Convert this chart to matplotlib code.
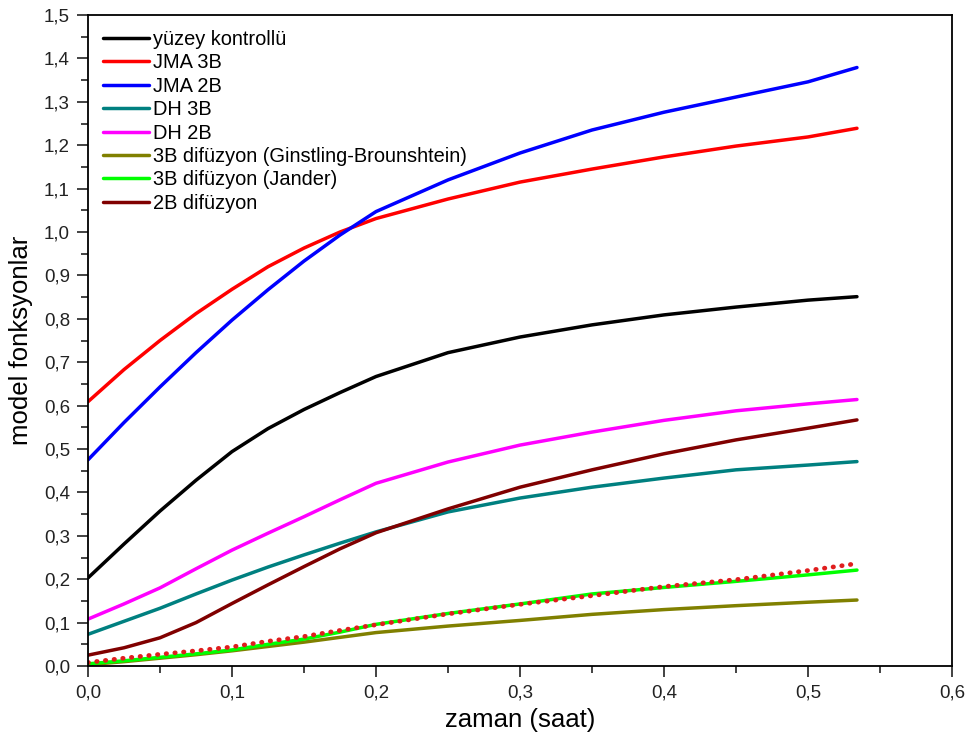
import matplotlib
matplotlib.use("Agg")
import matplotlib.pyplot as plt
from matplotlib.ticker import MultipleLocator, FuncFormatter

plt.rcParams['font.family'] = ['Liberation Sans', 'DejaVu Sans']

# time axis (hours)
t = [0.0, 0.025, 0.05, 0.075, 0.1, 0.125, 0.15, 0.175, 0.2,
     0.25, 0.3, 0.35, 0.4, 0.45, 0.5, 0.534]

yuzey_kontrollu = [0.203, 0.281, 0.357, 0.428, 0.494, 0.547, 0.591, 0.630, 0.667,
                   0.722, 0.758, 0.786, 0.809, 0.827, 0.843, 0.851]
jma_3b = [0.609, 0.683, 0.750, 0.812, 0.868, 0.920, 0.963, 1.000, 1.031,
          1.076, 1.115, 1.145, 1.173, 1.198, 1.219, 1.239]
jma_2b = [0.475, 0.561, 0.643, 0.722, 0.797, 0.867, 0.933, 0.993, 1.047,
          1.120, 1.182, 1.235, 1.276, 1.311, 1.346, 1.379]
dh_3b = [0.073, 0.103, 0.133, 0.166, 0.198, 0.228, 0.256, 0.283, 0.309,
         0.355, 0.387, 0.412, 0.433, 0.452, 0.463, 0.471]
dh_2b = [0.108, 0.143, 0.180, 0.224, 0.267, 0.306, 0.344, 0.383, 0.421,
         0.470, 0.509, 0.539, 0.566, 0.588, 0.604, 0.614]
gb_3b = [0.003, 0.010, 0.018, 0.026, 0.035, 0.045, 0.055, 0.066, 0.077,
         0.092, 0.105, 0.119, 0.130, 0.139, 0.147, 0.152]
jander_3b = [0.005, 0.012, 0.020, 0.028, 0.037, 0.050, 0.062, 0.078, 0.096,
             0.121, 0.143, 0.166, 0.181, 0.195, 0.210, 0.221]
dif_2b = [0.025, 0.042, 0.065, 0.100, 0.144, 0.187, 0.229, 0.270, 0.307,
          0.362, 0.412, 0.452, 0.489, 0.521, 0.548, 0.567]
dif_2b_kare = [0.008, 0.018, 0.027, 0.035, 0.044, 0.057, 0.068, 0.082, 0.095,
               0.120, 0.142, 0.162, 0.183, 0.199, 0.220, 0.236]

series = [
    ("yüzey kontrollü", yuzey_kontrollu, "#000000"),
    ("JMA 3B", jma_3b, "#ff0000"),
    ("JMA 2B", jma_2b, "#0000ff"),
    ("DH 3B", dh_3b, "#008080"),
    ("DH 2B", dh_2b, "#ff00ff"),
    ("3B difüzyon (Ginstling-Brounshtein)", gb_3b, "#808000"),
    ("3B difüzyon (Jander)", jander_3b, "#00ff00"),
    ("2B difüzyon", dif_2b, "#800000"),
]

fig = plt.figure(figsize=(9.71, 7.43), dpi=100)
ax = fig.add_axes([88 / 971, 1 - 666 / 743, (952 - 88) / 971, (666 - 15) / 743])

for label, vals, color in series:
    ax.plot(t, vals, color=color, lw=2.5, label=label, solid_capstyle='round')

ax.plot(t, dif_2b_kare, color="#e01e1e", lw=3.4, linestyle=(0, (0.1, 1.75)),
        dash_capstyle='round')

ax.set_xlim(0, 0.6)
ax.set_ylim(0, 1.5)
ax.xaxis.set_major_locator(MultipleLocator(0.1))
ax.xaxis.set_minor_locator(MultipleLocator(0.05))
ax.yaxis.set_major_locator(MultipleLocator(0.1))
ax.yaxis.set_minor_locator(MultipleLocator(0.05))
comma = FuncFormatter(lambda v, p: f"{v:.1f}".replace(".", ","))
ax.xaxis.set_major_formatter(comma)
ax.yaxis.set_major_formatter(comma)

ax.tick_params(which='both', direction='out', top=False, right=False,
               width=1.2, labelsize=13.5, colors='#222222')
ax.tick_params(which='major', length=8, pad=5)
ax.tick_params(which='minor', length=5)
for sp in ax.spines.values():
    sp.set_linewidth(1.3)

ax.set_xlabel("zaman (saat)", fontsize=18.5, labelpad=5)
ax.set_ylabel("model fonksyonlar", fontsize=18.5, labelpad=8)

ax.legend(loc='upper left', bbox_to_anchor=(0.0, 1.0), frameon=False,
          fontsize=14.4, handlelength=2.3, handletextpad=0.2,
          labelspacing=0.22, borderaxespad=0.35, borderpad=0.4)

fig.savefig("out.png", dpi=100)
